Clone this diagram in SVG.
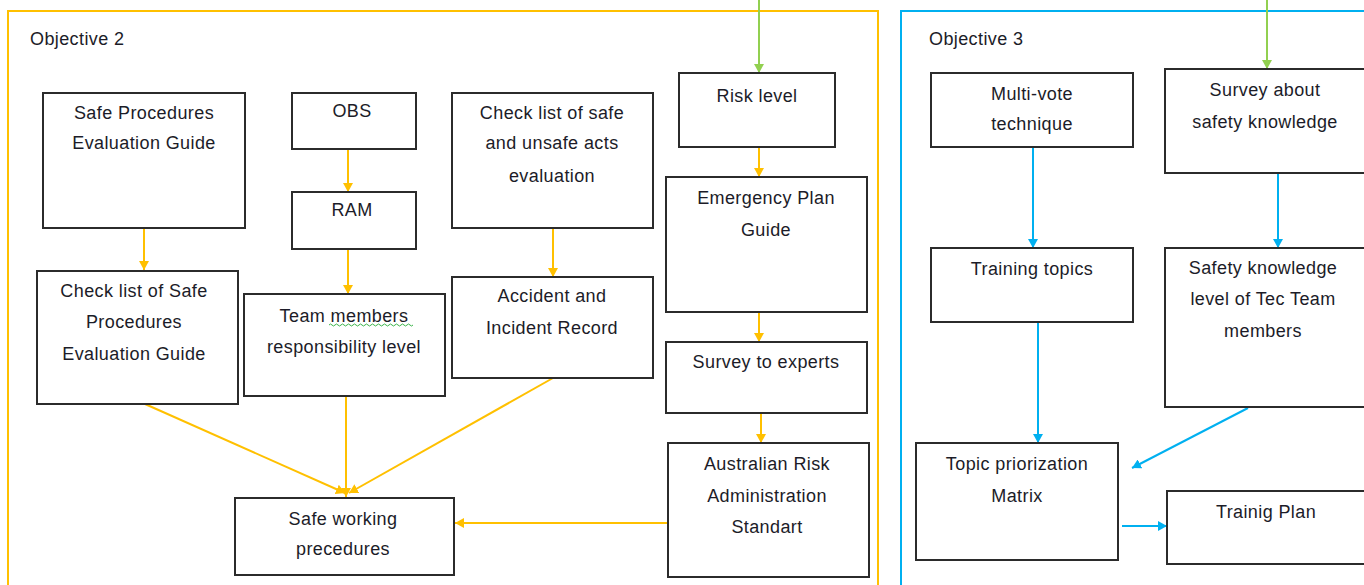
<svg xmlns="http://www.w3.org/2000/svg" width="1364" height="585" viewBox="0 0 1364 585">
<style>
.box{fill:#fff;stroke:#2b2b2b;stroke-width:2}
.t{font-family:"Liberation Sans",Arial,sans-serif;font-size:18px;letter-spacing:0.4px;fill:#1c1c28;text-anchor:middle}
.h{font-family:"Liberation Sans",Arial,sans-serif;font-size:18px;letter-spacing:0.4px;fill:#1c1c28}
.y{stroke:#FFC000;stroke-width:2;fill:none;marker-end:url(#ay)}
.b{stroke:#00B0F0;stroke-width:2;fill:none;marker-end:url(#ab)}
.g{stroke:#92D050;stroke-width:2;fill:none;marker-end:url(#ag)}
</style>
<defs>
<marker id="ay" markerUnits="userSpaceOnUse" markerWidth="10" markerHeight="10" refX="9" refY="5" orient="auto"><path d="M0,0 L9,5 L0,10 z" fill="#FFC000"/></marker>
<marker id="ab" markerUnits="userSpaceOnUse" markerWidth="10" markerHeight="10" refX="9" refY="5" orient="auto"><path d="M0,0 L9,5 L0,10 z" fill="#00B0F0"/></marker>
<marker id="ag" markerUnits="userSpaceOnUse" markerWidth="10" markerHeight="10" refX="9" refY="5" orient="auto"><path d="M0,0 L9,5 L0,10 z" fill="#92D050"/></marker>
</defs>
<rect width="1364" height="585" fill="#fff"/>
<g id="objective2">
<rect x="8" y="11" width="870" height="620" fill="none" stroke="#FFC000" stroke-width="2"/>
<text class="h" x="30" y="45">Objective  2</text>
</g>
<g id="objective3">
<rect x="901" y="11" width="520" height="620" fill="none" stroke="#00B0F0" stroke-width="2"/>
<text class="h" x="929" y="45">Objective  3</text>
</g>
<g id="connectors">
<path class="g" d="M759,0 V73"/>
<path class="g" d="M1267,0 V69"/>
<path class="y" d="M144,228 V270"/>
<path class="y" d="M348,149 V192"/>
<path class="y" d="M348,249 V294"/>
<path class="y" d="M553,228 V277"/>
<path class="y" d="M759,147 V177"/>
<path class="y" d="M759,312 V342"/>
<path class="y" d="M761,413 V443"/>
<path class="y" d="M145,404 L345,493"/>
<path class="y" d="M346,396 V497"/>
<path class="y" d="M553,378 L349,493"/>
<path class="y" d="M667,523 H455"/>
<path class="b" d="M1033,147 V248"/>
<path class="b" d="M1278,173 V248"/>
<path class="b" d="M1038,322 V443"/>
<path class="b" d="M1248,408 L1132,468"/>
<path class="b" d="M1122,526 H1167"/>
</g>
<g id="safe-procedures-guide">
<rect class="box" x="43" y="93" width="202" height="135"/>
<text class="t" x="144" y="119">Safe Procedures</text>
<text class="t" x="144" y="149">Evaluation  Guide</text>
</g>
<g id="obs">
<rect class="box" x="292" y="93" width="124" height="56"/>
<text class="t" x="352" y="117">OBS</text>
</g>
<g id="ram">
<rect class="box" x="292" y="192" width="124" height="57"/>
<text class="t" x="352" y="216">RAM</text>
</g>
<g id="checklist-acts">
<rect class="box" x="452" y="93" width="201" height="135"/>
<text class="t" x="552" y="119">Check list of safe</text>
<text class="t" x="552" y="149">and unsafe acts</text>
<text class="t" x="552" y="182">evaluation</text>
</g>
<g id="risk-level">
<rect class="box" x="679" y="73" width="156" height="74"/>
<text class="t" x="757" y="102">Risk level</text>
</g>
<g id="emergency-plan">
<rect class="box" x="666" y="177" width="201" height="135"/>
<text class="t" x="766" y="204">Emergency Plan</text>
<text class="t" x="766" y="236">Guide</text>
</g>
<g id="checklist-safe-procedures">
<rect class="box" x="37" y="271" width="201" height="133"/>
<text class="t" x="134" y="297">Check list of Safe</text>
<text class="t" x="134" y="328">Procedures</text>
<text class="t" x="134" y="360">Evaluation  Guide</text>
</g>
<g id="team-members">
<rect class="box" x="244" y="294" width="201" height="102"/>
<text class="t" x="344" y="322">Team members</text>
<path d="M329,325 q1.5,-2 3,0 t3,0 t3,0 t3,0 t3,0 t3,0 t3,0 t3,0 t3,0 t3,0 t3,0 t3,0 t3,0 t3,0 t3,0 t3,0 t3,0 t3,0 t3,0 t3,0 t3,0 t3,0 t3,0 t3,0 t3,0 t3,0 t3,0 t3,0" fill="none" stroke="#3bb54a" stroke-width="1"/>
<text class="t" x="344" y="353">responsibility  level</text>
</g>
<g id="accident-record">
<rect class="box" x="452" y="277" width="201" height="101"/>
<text class="t" x="552" y="302">Accident  and</text>
<text class="t" x="552" y="334">Incident  Record</text>
</g>
<g id="survey-experts">
<rect class="box" x="666" y="342" width="201" height="71"/>
<text class="t" x="766" y="368">Survey to experts</text>
</g>
<g id="australian-standard">
<rect class="box" x="668" y="443" width="201" height="134"/>
<text class="t" x="767" y="470">Australian Risk</text>
<text class="t" x="767" y="502">Administration</text>
<text class="t" x="767" y="533">Standart</text>
</g>
<g id="safe-working">
<rect class="box" x="235" y="498" width="219" height="77"/>
<text class="t" x="343" y="525">Safe working</text>
<text class="t" x="343" y="555">precedures</text>
</g>
<g id="multi-vote">
<rect class="box" x="931" y="73" width="202" height="74"/>
<text class="t" x="1032" y="100">Multi-vote</text>
<text class="t" x="1032" y="130">technique</text>
</g>
<g id="survey-safety">
<rect class="box" x="1165" y="69" width="220" height="104"/>
<text class="t" x="1265" y="96">Survey about</text>
<text class="t" x="1265" y="128">safety knowledge</text>
</g>
<g id="training-topics">
<rect class="box" x="931" y="248" width="202" height="74"/>
<text class="t" x="1032" y="275">Training topics</text>
</g>
<g id="safety-knowledge-level">
<rect class="box" x="1165" y="248" width="220" height="159"/>
<text class="t" x="1263" y="274">Safety knowledge</text>
<text class="t" x="1263" y="305">level of Tec Team</text>
<text class="t" x="1263" y="337">members</text>
</g>
<g id="topic-matrix">
<rect class="box" x="916" y="443" width="202" height="117"/>
<text class="t" x="1017" y="470">Topic  priorization</text>
<text class="t" x="1017" y="502">Matrix</text>
</g>
<g id="training-plan">
<rect class="box" x="1167" y="491" width="220" height="73"/>
<text class="t" x="1266" y="518">Trainig Plan</text>
</g>
</svg>
